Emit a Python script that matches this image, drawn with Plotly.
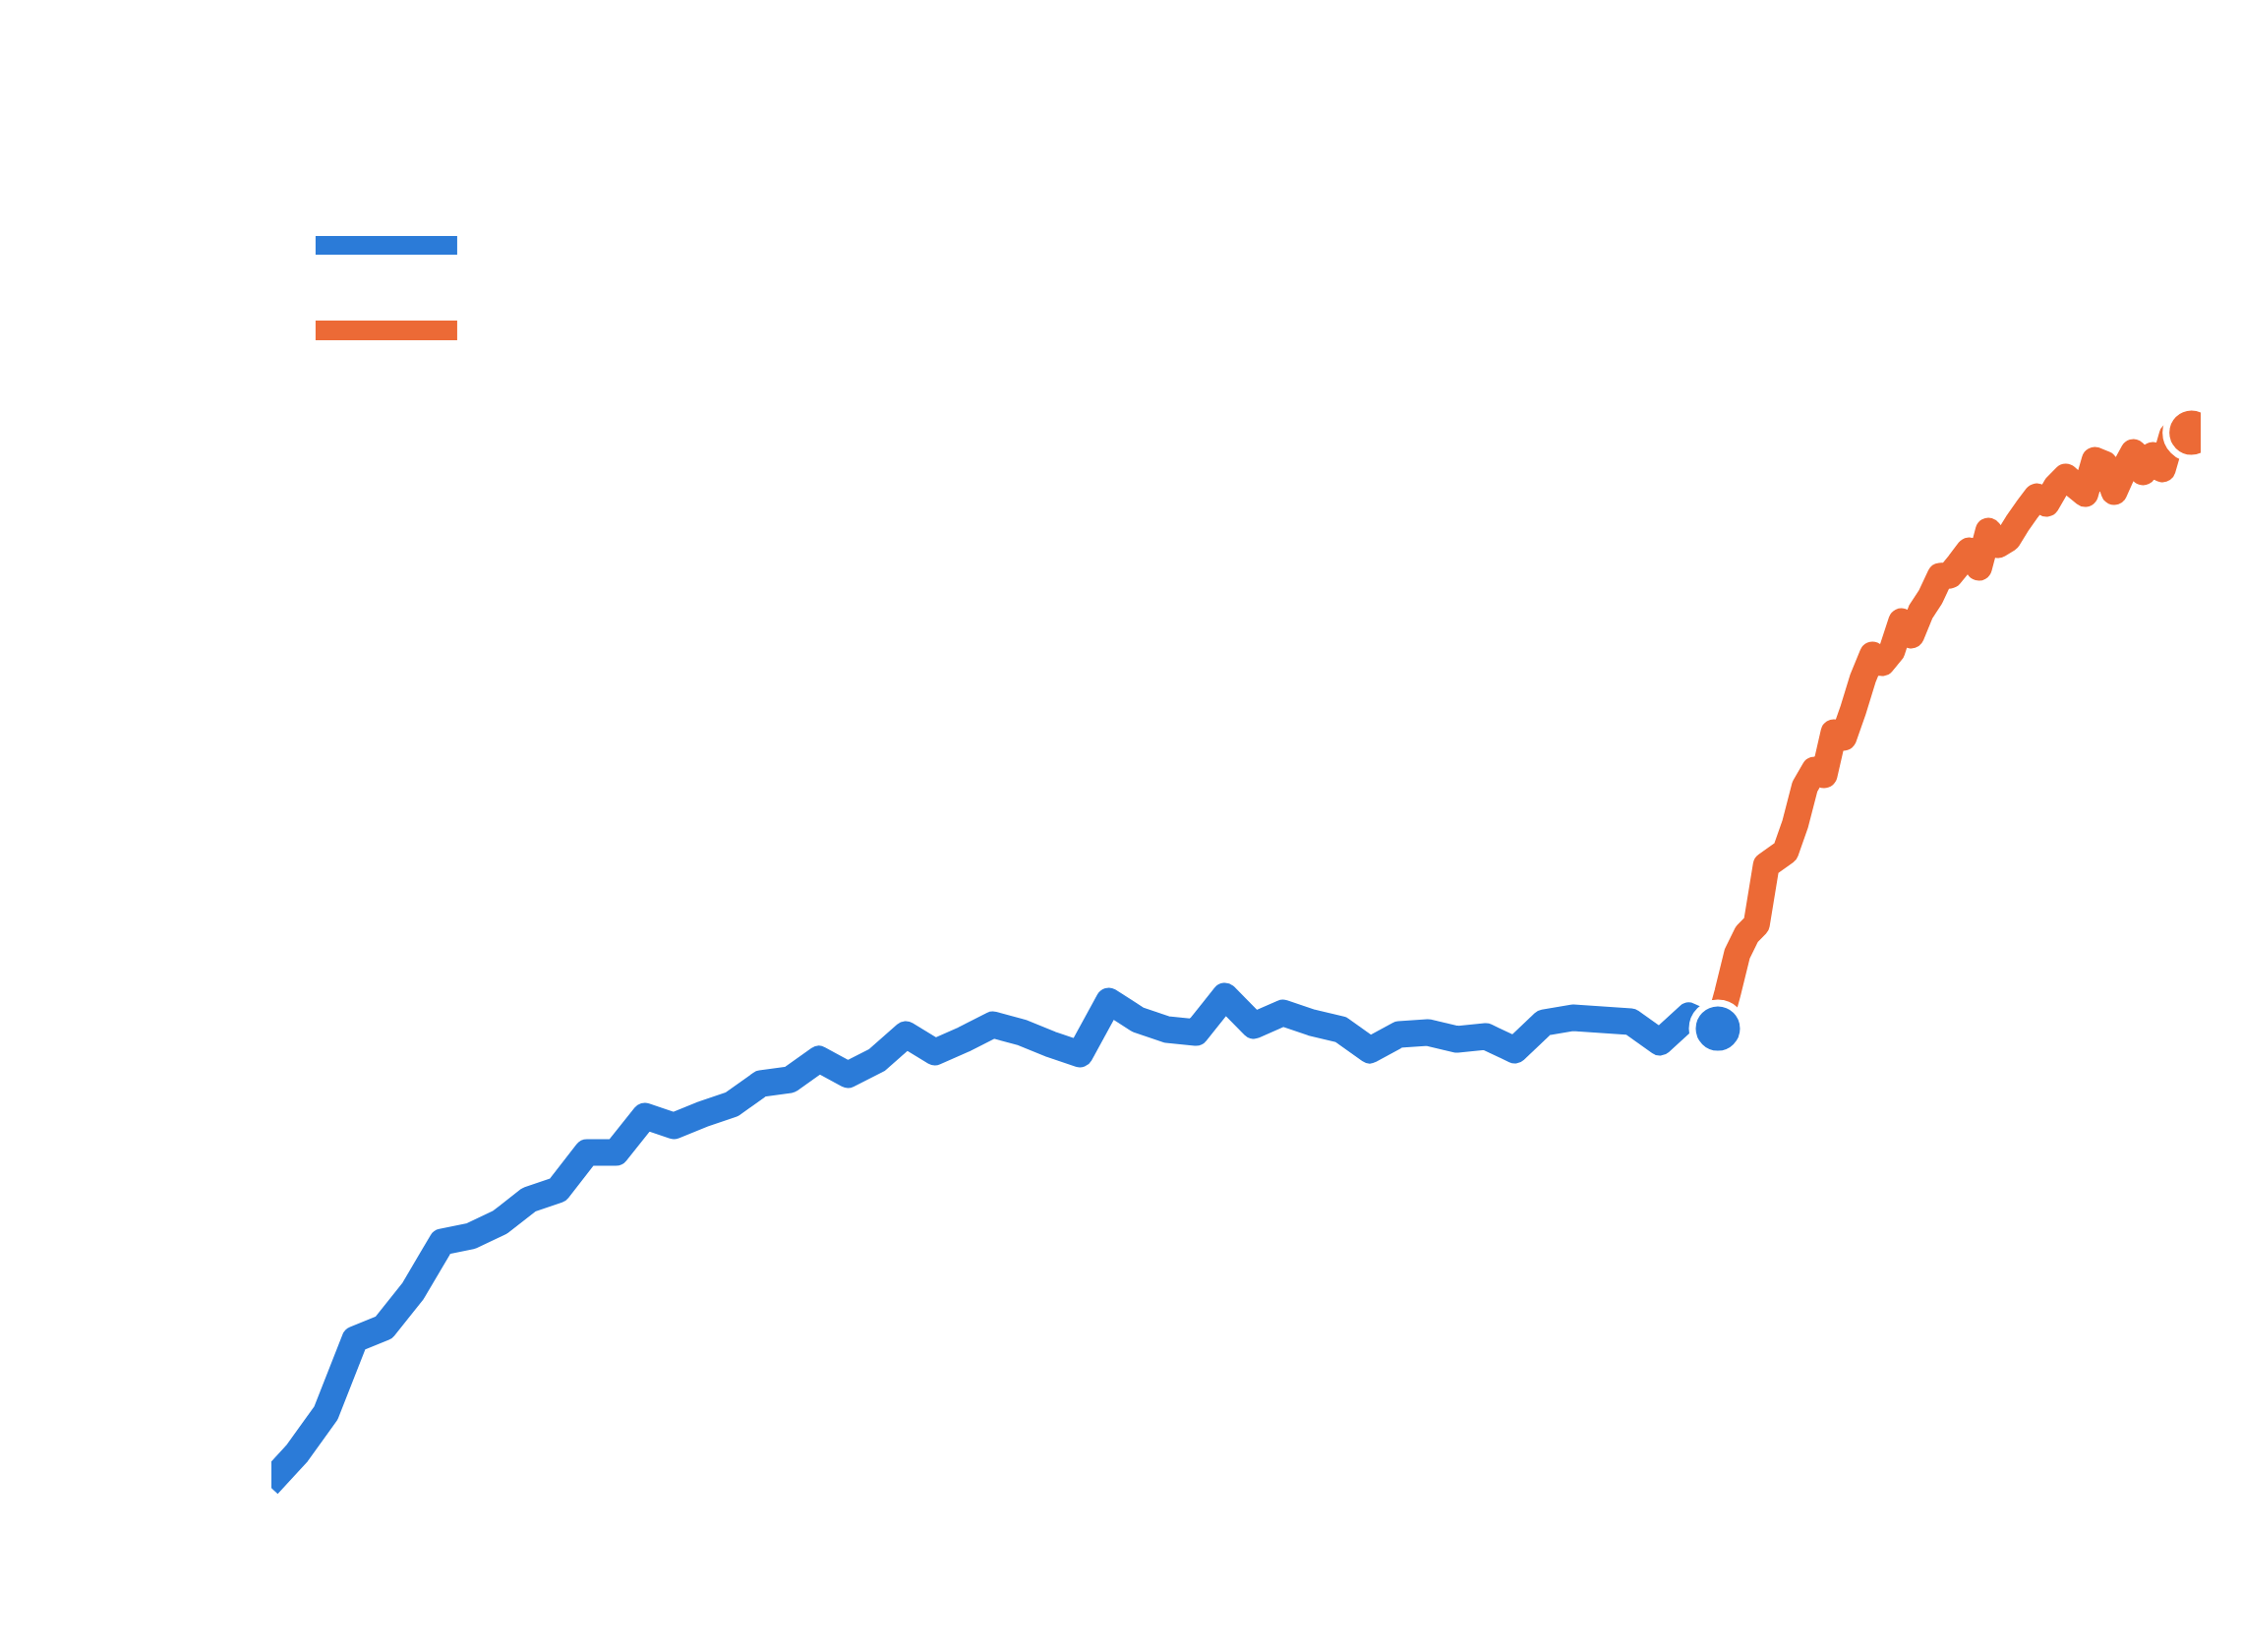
import plotly.graph_objects as go

# ---- data ----
# historical series: one value per period
hist_x = list(range(0, 51))
hist_y = [5.0, 8.2, 12.3, 19.8, 21.0, 24.7, 29.7, 30.3, 31.7, 34.0,
          35.0, 38.8, 38.8, 42.5, 41.5, 42.7, 43.7, 45.8, 46.2, 48.3,
          46.7, 48.2, 50.8, 49.0, 50.3, 51.8, 51.0, 49.8, 48.8, 54.2,
          52.3, 51.3, 51.0, 54.7, 51.7, 53.0, 52.0, 51.3, 49.2, 50.8,
          51.0, 50.3, 50.6, 49.2, 52.0, 52.5, 52.3, 52.1, 50.0, 52.7,
          51.4]

# projected series: three values per period, starting at the last historical point
proj_x = [50 + k / 3 for k in range(50)]
proj_y = [51.4, 55.0, 59.0, 61.0, 62.0, 68.0, 68.7, 69.4, 72.2, 76.0,
          77.7, 77.2, 81.5, 81.0, 83.8, 87.0, 89.4, 88.6, 89.8, 92.8,
          91.4, 93.8, 95.3, 97.4, 97.5, 98.7, 100.0, 98.3, 102.0, 100.6,
          101.2, 102.8, 104.2, 105.5, 104.8, 106.5, 107.5, 106.6, 105.8, 109.2,
          108.8, 106.0, 108.2, 110.0, 108.0, 109.7, 108.3, 111.7, 111.9, 112.0]

BLUE = "#2b7bd8"
ORANGE = "#ec6a36"
LINE_W = 27

fig = go.Figure()
fig.add_trace(go.Scatter(x=hist_x, y=hist_y, mode="lines",
                         line=dict(color=BLUE, width=LINE_W, simplify=False),
                         showlegend=False, hoverinfo="skip"))
fig.add_trace(go.Scatter(x=proj_x, y=proj_y, mode="lines",
                         line=dict(color=ORANGE, width=LINE_W, simplify=False),
                         showlegend=False, hoverinfo="skip"))
fig.add_trace(go.Scatter(x=[hist_x[-1]], y=[hist_y[-1]], mode="markers",
                         marker=dict(color=BLUE, size=52, line=dict(color="white", width=7)),
                         showlegend=False, hoverinfo="skip"))
fig.add_trace(go.Scatter(x=[proj_x[-1]], y=[proj_y[-1]], mode="markers",
                         marker=dict(color=ORANGE, size=52, line=dict(color="white", width=7)),
                         showlegend=False, hoverinfo="skip"))

# legend swatches (no labels in the reference)
fig.add_shape(type="rect", xref="paper", yref="paper", x0=0.0229, x1=0.0963,
              y0=0.8926, y1=0.9054, fillcolor=BLUE, line=dict(width=0))
fig.add_shape(type="rect", xref="paper", yref="paper", x0=0.0229, x1=0.0963,
              y0=0.8338, y1=0.8473, fillcolor=ORANGE, line=dict(width=0))

fig.update_layout(
    width=2280, height=1680,
    margin=dict(l=276, r=42, t=100, b=100),
    paper_bgcolor="white", plot_bgcolor="white",
    xaxis=dict(visible=False, range=[0.119, 66.65]),
    yaxis=dict(visible=False, range=[-2, 146]),
    showlegend=False,
)

post = """
document.body.style.margin='0';
document.querySelectorAll('.scatterlayer .js-line').forEach(function(p){
  p.style.strokeLinejoin='round';
});
"""
fig.write_html("out.html", post_script=post)
